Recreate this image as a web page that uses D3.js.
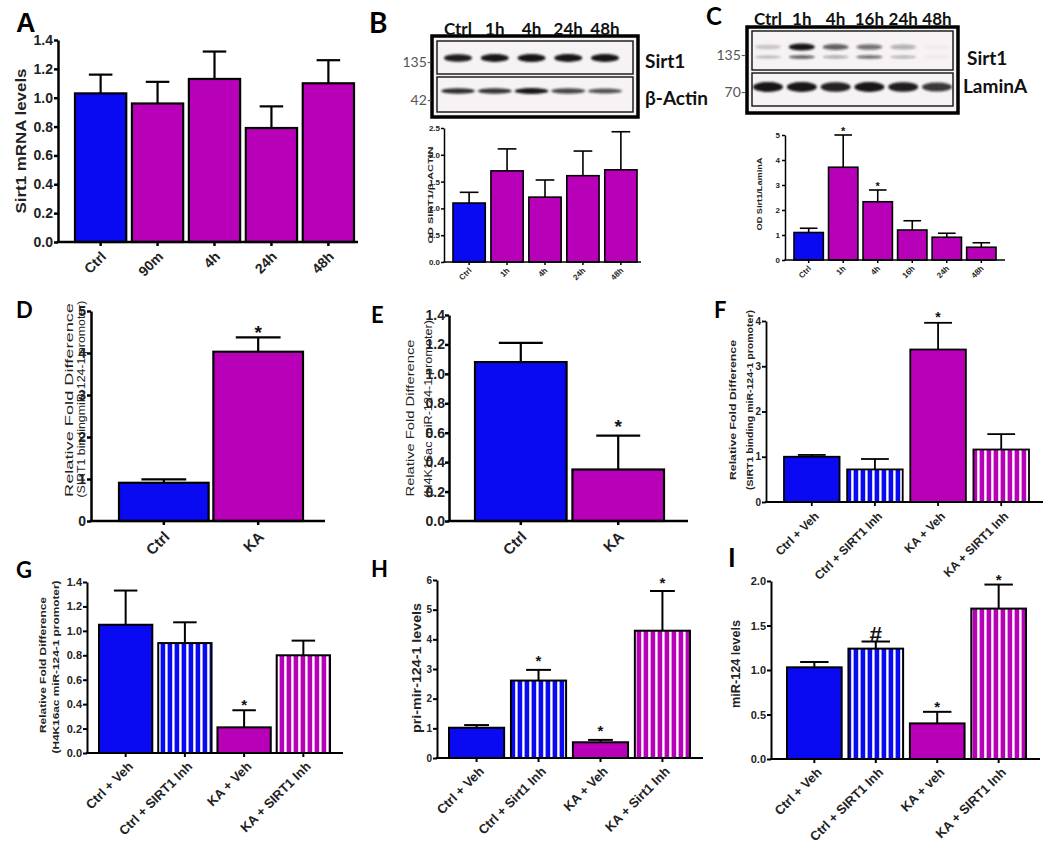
<!DOCTYPE html>
<html>
<head>
<meta charset="utf-8">
<script src="https://cdn.jsdelivr.net/npm/d3@7"></script>
<style>
body { margin: 0; background: #fff; }
svg { display: block; }
</style>
</head>
<body>
<div id="fig"></div>
<script>
// ---- values ----
var aCats = ["Ctrl", "90m", "4h", "24h", "48h"];
var aMeans = [1.03, 0.96, 1.13, 0.79, 1.10];
var aErrs = [0.13, 0.15, 0.19, 0.15, 0.16];

var bCats = ["Ctrl", "1h", "4h", "24h", "48h"];
var bMeans = [1.10, 1.70, 1.21, 1.61, 1.72];
var bErrs = [0.20, 0.41, 0.32, 0.46, 0.71];

var cCats = ["Ctrl", "1h", "4h", "16h", "24h", "48h"];
var cMeans = [1.10, 3.71, 2.33, 1.20, 0.91, 0.51];
var cErrs = [0.17, 1.29, 0.47, 0.37, 0.16, 0.18];
var cMarks = ["", "*", "*", "", "", ""];

var dCats = ["Ctrl", "KA"];
var dMeans = [0.91, 4.03];
var dErrs = [0.08, 0.34];
var dMarks = ["", "*"];

var eCats = ["Ctrl", "KA"];
var eMeans = [1.08, 0.35];
var eErrs = [0.13, 0.23];
var eMarks = ["", "*"];

var fCats = ["Ctrl + Veh", "Ctrl + SIRT1 Inh", "KA + Veh", "KA + SIRT1 Inh"];
var fMeans = [1.00, 0.72, 3.37, 1.16];
var fErrs = [0.04, 0.23, 0.59, 0.34];
var fMarks = ["", "", "*", ""];

var gCats = ["Ctrl + Veh", "Ctrl + SIRT1 Inh", "KA + Veh", "KA + SIRT1 Inh"];
var gMeans = [1.05, 0.90, 0.21, 0.80];
var gErrs = [0.28, 0.17, 0.14, 0.12];
var gMarks = ["", "", "*", ""];

var hCats = ["Ctrl + Veh", "Ctrl + Sirt1 Inh", "KA + Veh", "KA + Sirt1 Inh"];
var hMeans = [1.02, 2.61, 0.53, 4.29];
var hErrs = [0.09, 0.36, 0.08, 1.34];
var hMarks = ["", "*", "*", "*"];

var iCats = ["Ctrl + Veh", "Ctrl + SIRT1 Inh", "KA + veh", "KA + SIRT1 Inh"];
var iMeans = [1.03, 1.24, 0.40, 1.69];
var iErrs = [0.06, 0.08, 0.13, 0.27];
var iMarks = ["", "#", "*", "*"];

// western blot lanes and band strength (0..1)
var bLanes = ["Ctrl", "1h", "4h", "24h", "48h"];
var bSirt1Bands = [0.92, 0.95, 1.0, 0.95, 0.97];
var bActinBands = [0.85, 0.82, 0.95, 0.72, 0.68];
var cLanes = ["Ctrl", "1h", "4h", "16h", "24h", "48h"];
var cSirt1Upper = [0.18, 1.0, 0.62, 0.55, 0.3, 0.03];
var cSirt1Lower = [0.25, 0.65, 0.35, 0.6, 0.3, 0.05];
var cLaminBands = [1.0, 0.95, 0.9, 0.97, 0.92, 0.78];

var BLUE = "#0a0af2", MAG = "#b800b8";

var svg = d3.select("#fig").append("svg")
  .attr("width", 1050).attr("height", 849)
  .style("background", "#fff");

var defs = svg.append("defs");
function stripe(id, col) {
  var p = defs.append("pattern").attr("id", id)
    .attr("patternUnits", "userSpaceOnUse")
    .attr("width", 7).attr("height", 10);
  p.append("rect").attr("width", 7).attr("height", 10).attr("fill", col);
  p.append("rect").attr("x", 4.2).attr("width", 2.4).attr("height", 10).attr("fill", "#fff");
}
stripe("stripeB", BLUE);
stripe("stripeM", MAG);
defs.append("filter").attr("id", "blur").attr("x", "-50%").attr("y", "-100%")
  .attr("width", "200%").attr("height", "300%")
  .append("feGaussianBlur").attr("stdDeviation", 1.3);

var fillMap = { b: BLUE, m: MAG, bs: "url(#stripeB)", ms: "url(#stripeM)" };
var ARIAL = "'Liberation Sans', Arial, sans-serif";
var CAL = "Lato, 'Open Sans', sans-serif";

// ---- panel layout ----
var panels = [
  { letter: "A", lx: 16, ly: 32, lf: 27, lfont: ARIAL,
    cats: aCats, means: aMeans, errs: aErrs, marks: null, fills: ["b", "m", "m", "m", "m"],
    max: 1.4, step: 0.2, fmt: ".1f", ax: 58, axEnd: 358, y0: 242, yTop: 40,
    barL: 75, barR: 354, pad: 0.1, tf: 14, xf: 14, axW: 2.5, barSW: 2.2, tl: 4, tp: 1, lo: [3, 12],
    yLab: ["Sirt1 mRNA levels"], yLabX: [21], yLabY: [141], yLabLen: [145], ylf: 14, ylw: "bold", cap: 0.46 },
  { letter: "B", lx: 369, ly: 33, lf: 28, lfont: CAL,
    cats: bCats, means: bMeans, errs: bErrs, marks: null, fills: ["b", "m", "m", "m", "m"],
    max: 2.5, step: 0.5, fmt: ".1f", ax: 444, axEnd: 641, y0: 262, yTop: 128,
    barL: 453, barR: 637, pad: 0.15, tf: 8, xf: 8, axW: 1.5, barSW: 1.6, tl: 3, tp: 1, lo: [1, 7],
    yLab: ["OD SIRT1/\u03b2-ACTIN"], yLabX: [430], yLabY: [195], yLabLen: [97], ylf: 8, ylw: "bold", cap: 0.58 },
  { letter: "C", lx: 706, ly: 25, lf: 24, lfont: CAL,
    cats: cCats, means: cMeans, errs: cErrs, marks: cMarks, mf: 11, mg: 6, fills: ["b", "m", "m", "m", "m", "m"],
    max: 5, step: 1, fmt: "d", ax: 785, axEnd: 1005, y0: 260, yTop: 135,
    barL: 794, barR: 996, pad: 0.15, tf: 8, xf: 8, axW: 1.5, barSW: 1.6, tl: 3, tp: 2, lo: [1, 7],
    yLab: ["OD Sirt1/LaminA"], yLabX: [759], yLabY: [194], yLabLen: [73], ylf: 8, ylw: "bold", cap: 0.6 },
  { letter: "D", lx: 16, ly: 318, lf: 22, lfont: CAL,
    cats: dCats, means: dMeans, errs: dErrs, marks: dMarks, mf: 19, mg: 9, fills: ["b", "m"],
    max: 5, step: 1, fmt: "d", ax: 91, axEnd: 325, y0: 521, yTop: 311,
    barL: 119, barR: 303, pad: 0.05, tf: 14, xf: 15, axW: 2.5, barSW: 2.2, tl: 4, tp: 1, lo: [3, 13],
    yLab: ["Relative Fold Difference", "(SIRT1 bindingmiR-124-1 promoter)"], yLabX: [69, 81], yLabY: [400, 399],
    yLabLen: [194, 197], ylf: 11, ylw: "normal", cap: 0.5 },
  { letter: "E", lx: 371, ly: 323, lf: 22, lfont: CAL,
    cats: eCats, means: eMeans, errs: eErrs, marks: eMarks, mf: 19, mg: 13, fills: ["b", "m"],
    max: 1.4, step: 0.2, fmt: ".1f", ax: 449, axEnd: 688, y0: 521, yTop: 315,
    barL: 475, barR: 664, pad: 0.06, tf: 14, xf: 15, axW: 2.5, barSW: 2.2, tl: 4, tp: 0, lo: [3, 13],
    yLab: ["Relative Fold Difference", "(H4K16ac miR-124-1 promoter)"], yLabX: [410, 428], yLabY: [418, 409],
    yLabLen: [157, 178], ylf: 11, ylw: "normal", cap: 0.48 },
  { letter: "F", lx: 714, ly: 318, lf: 22, lfont: CAL,
    cats: fCats, means: fMeans, errs: fErrs, marks: fMarks, mf: 14, mg: 9, fills: ["b", "bs", "m", "ms"],
    max: 4, step: 1, fmt: "d", ax: 766, axEnd: 1043, y0: 502, yTop: 321,
    barL: 784, barR: 1029, pad: 0.12, tf: 10, xf: 12, axW: 1.8, barSW: 1.8, tl: 4, tp: 1, lo: [5, 12],
    yLab: ["Relative Fold Difference", "(SIRT1 binding miR-124-1 promoter)"], yLabX: [733, 750], yLabY: [410, 400],
    yLabLen: [140, 180], ylf: 9, ylw: "bold", cap: 0.5 },
  { letter: "G", lx: 16, ly: 578, lf: 22, lfont: CAL,
    cats: gCats, means: gMeans, errs: gErrs, marks: gMarks, mf: 15, mg: 9, fills: ["b", "bs", "m", "ms"],
    max: 1.4, step: 0.2, fmt: ".1f", ax: 87, axEnd: 343, y0: 753, yTop: 582,
    barL: 99, barR: 330, pad: 0.1, tf: 11, xf: 13, axW: 2, barSW: 2, tl: 4, tp: 1, lo: [5, 11],
    yLab: ["Relative Fold Difference", "(H4K16ac miR-124-1 promoter)"], yLabX: [43, 56], yLabY: [665, 667],
    yLabLen: [136, 173], ylf: 9, ylw: "bold", cap: 0.44 },
  { letter: "H", lx: 371, ly: 577, lf: 22, lfont: CAL,
    cats: hCats, means: hMeans, errs: hErrs, marks: hMarks, mf: 15, mg: 12, fills: ["b", "bs", "m", "ms"],
    max: 6, step: 1, fmt: "d", ax: 437, axEnd: 703, y0: 758, yTop: 580,
    barL: 449, barR: 690, pad: 0.11, tf: 10, xf: 13, axW: 2, barSW: 2, tl: 4, tp: 1, lo: [5, 11],
    yLab: ["pri-mir-124-1 levels"], yLabX: [417], yLabY: [668], yLabLen: [130], ylf: 12, ylw: "bold", cap: 0.45 },
  { letter: "I", lx: 728, ly: 567, lf: 26, lfont: CAL,
    cats: iCats, means: iMeans, errs: iErrs, marks: iMarks, mf: 15, mg: 8, fills: ["b", "bs", "m", "ms"],
    max: 2, step: 0.5, fmt: ".1f", ax: 771, axEnd: 1040, y0: 759, yTop: 581,
    barL: 787, barR: 1026, pad: 0.11, tf: 11, xf: 13, axW: 2, barSW: 2, tl: 4, tp: 1, lo: [5, 11],
    yLab: ["miR-124 levels"], yLabX: [735], yLabY: [664], yLabLen: [88], ylf: 13, ylw: "bold", cap: 0.52 }
];

function drawPanel(p) {
  var g = svg.append("g");
  var x = d3.scaleBand().domain(p.cats).range([p.barL, p.barR]).paddingInner(p.pad).paddingOuter(0);
  var y = d3.scaleLinear().domain([0, p.max]).range([p.y0, p.yTop]);

  // y axis
  var yAxis = g.append("g")
    .attr("transform", "translate(" + p.ax + ",0)")
    .call(d3.axisLeft(y)
      .tickValues(d3.range(0, p.max + 1e-9, p.step))
      .tickFormat(d3.format(p.fmt))
      .tickSize(p.tl).tickSizeOuter(0).tickPadding(p.tp));
  yAxis.selectAll("path, line").attr("stroke", "#000").attr("stroke-width", p.axW);
  yAxis.selectAll("text").attr("font-family", ARIAL).attr("font-weight", "bold")
    .attr("font-size", p.tf).attr("fill", "#222");

  // bars
  var data = p.cats.map(function (c, i) {
    return { cat: c, mean: p.means[i], err: p.errs[i], fill: p.fills[i], mark: p.marks ? p.marks[i] : "" };
  });
  var bars = g.append("g").selectAll("g").data(data).enter().append("g");
  bars.append("rect")
    .attr("x", function (d) { return x(d.cat); })
    .attr("y", function (d) { return y(d.mean); })
    .attr("width", x.bandwidth())
    .attr("height", function (d) { return y(0) - y(d.mean); })
    .attr("fill", function (d) { return fillMap[d.fill]; })
    .attr("stroke", "#000").attr("stroke-width", p.barSW);
  var cx = function (d) { return x(d.cat) + x.bandwidth() / 2; };
  bars.append("line")
    .attr("x1", cx).attr("x2", cx)
    .attr("y1", function (d) { return y(d.mean); })
    .attr("y2", function (d) { return y(d.mean + d.err); })
    .attr("stroke", "#000").attr("stroke-width", p.barSW);
  bars.append("line")
    .attr("x1", function (d) { return cx(d) - x.bandwidth() * p.cap / 2; })
    .attr("x2", function (d) { return cx(d) + x.bandwidth() * p.cap / 2; })
    .attr("y1", function (d) { return y(d.mean + d.err); })
    .attr("y2", function (d) { return y(d.mean + d.err); })
    .attr("stroke", "#000").attr("stroke-width", p.barSW);
  bars.filter(function (d) { return d.mark; }).append("text")
    .attr("x", cx)
    .attr("y", function (d) {
      var c = y(d.mean + d.err) - p.mg;
      return d.mark === "#" ? c + 0.36 * p.mf * 1.5 : c + 0.57 * p.mf;
    })
    .attr("text-anchor", "middle")
    .attr("font-family", ARIAL).attr("font-weight", "bold")
    .attr("font-size", function (d) { return d.mark === "#" ? p.mf * 1.5 : p.mf; })
    .attr("fill", "#111")
    .text(function (d) { return d.mark; });

  // x axis
  g.append("line")
    .attr("x1", p.ax - p.axW / 2).attr("x2", p.axEnd)
    .attr("y1", y(0)).attr("y2", y(0))
    .attr("stroke", "#000").attr("stroke-width", p.axW);
  var xAxis = g.append("g")
    .attr("transform", "translate(0," + y(0) + ")")
    .call(d3.axisBottom(x).tickSize(p.tl).tickSizeOuter(0));
  xAxis.select(".domain").remove();
  xAxis.selectAll("line").attr("stroke", "#000").attr("stroke-width", p.axW);
  xAxis.selectAll("text")
    .attr("font-family", ARIAL).attr("font-weight", "bold")
    .attr("font-size", p.xf).attr("fill", "#222")
    .attr("text-anchor", "end")
    .attr("x", 0).attr("y", 0).attr("dy", "0.35em")
    .attr("transform", "translate(" + p.lo[0] + "," + p.lo[1] + ") rotate(-45)");

  // y label, stretched to the length seen in the figure
  p.yLab.forEach(function (t, i) {
    g.append("text")
      .attr("transform", "translate(" + p.yLabX[i] + "," + p.yLabY[i] + ") rotate(-90)")
      .attr("text-anchor", "middle").attr("dy", "0.35em")
      .attr("font-family", ARIAL).attr("font-weight", p.ylw)
      .attr("font-size", p.ylf).attr("fill", "#222")
      .attr("textLength", p.yLabLen[i]).attr("lengthAdjust", "spacingAndGlyphs")
      .text(t);
  });

  // panel letter
  svg.append("text").attr("x", p.lx).attr("y", p.ly)
    .attr("font-family", p.lfont).attr("font-weight", "bold")
    .attr("font-size", p.lf).attr("fill", "#000").text(p.letter);
}
panels.forEach(drawPanel);

// ---- western blots ----
function drawBlot(b) {
  var g = svg.append("g");
  var lx = d3.scalePoint().domain(b.lanes).range(b.laneRange);
  g.append("rect").attr("x", b.box[0]).attr("y", b.box[1]).attr("width", b.box[2]).attr("height", b.box[3])
    .attr("fill", "#f7f3f5").attr("stroke", "#000").attr("stroke-width", 3.5);
  b.strips.forEach(function (s) {
    g.append("rect").attr("x", s.r[0]).attr("y", s.r[1]).attr("width", s.r[2]).attr("height", s.r[3])
      .attr("fill", "none").attr("stroke", "#111").attr("stroke-width", 1.4);
    s.rows.forEach(function (row) {
      g.append("g").attr("filter", "url(#blur)").selectAll("ellipse")
        .data(b.lanes.map(function (l, i) { return { lane: l, v: row.vals[i] }; }))
        .enter().append("ellipse")
        .attr("cx", function (d) { return lx(d.lane); })
        .attr("cy", row.y)
        .attr("rx", row.w / 2)
        .attr("ry", function (d) { return row.h / 2 * (0.6 + 0.4 * d.v); })
        .attr("fill", "#141414")
        .attr("opacity", function (d) { return Math.min(1, d.v * 1.05); });
    });
    g.append("text").attr("x", s.mw[1]).attr("y", s.mw[2]).attr("dy", "0.35em")
      .attr("text-anchor", "end").attr("font-family", CAL).attr("font-size", 14)
      .attr("fill", "#555").text(s.mw[0]);
    g.append("text").attr("x", s.name[1]).attr("y", s.name[2]).attr("dy", "0.35em")
      .attr("font-family", CAL).attr("font-weight", "bold").attr("font-size", 19)
      .attr("fill", "#111").text(s.name[0]);
  });
  g.selectAll("text.lane").data(b.lanes).enter().append("text").attr("class", "lane")
    .attr("x", function (d) { return lx(d); }).attr("y", b.laneY)
    .attr("text-anchor", "middle").attr("font-family", CAL).attr("font-weight", "bold")
    .attr("font-size", 17).attr("fill", "#111").text(function (d) { return d; });
}

drawBlot({
  lanes: bLanes, laneRange: [458, 605], laneY: 35, box: [432, 36, 206, 81],
  strips: [
    { r: [437, 41, 196, 33], rows: [{ y: 58, w: 28, h: 8, vals: bSirt1Bands }],
      mw: ["135-", 432, 62], name: ["Sirt1", 645, 61] },
    { r: [437, 77, 196, 35], rows: [{ y: 91, w: 34, h: 6, vals: bActinBands }],
      mw: ["42-", 432, 100], name: ["\u03b2-Actin", 645, 98] }
  ]
});
drawBlot({
  lanes: cLanes, laneRange: [768, 937], laneY: 25, box: [747, 27, 211, 86],
  strips: [
    { r: [752, 31, 201, 39], rows: [
        { y: 47, w: 26, h: 7, vals: cSirt1Upper },
        { y: 57, w: 26, h: 4, vals: cSirt1Lower }],
      mw: ["135-", 746, 55], name: ["Sirt1", 967, 58] },
    { r: [752, 73, 201, 33], rows: [{ y: 87, w: 30, h: 10, vals: cLaminBands }],
      mw: ["70-", 746, 92], name: ["LaminA", 963, 86] }
  ]
});
</script>
</body>
</html>
